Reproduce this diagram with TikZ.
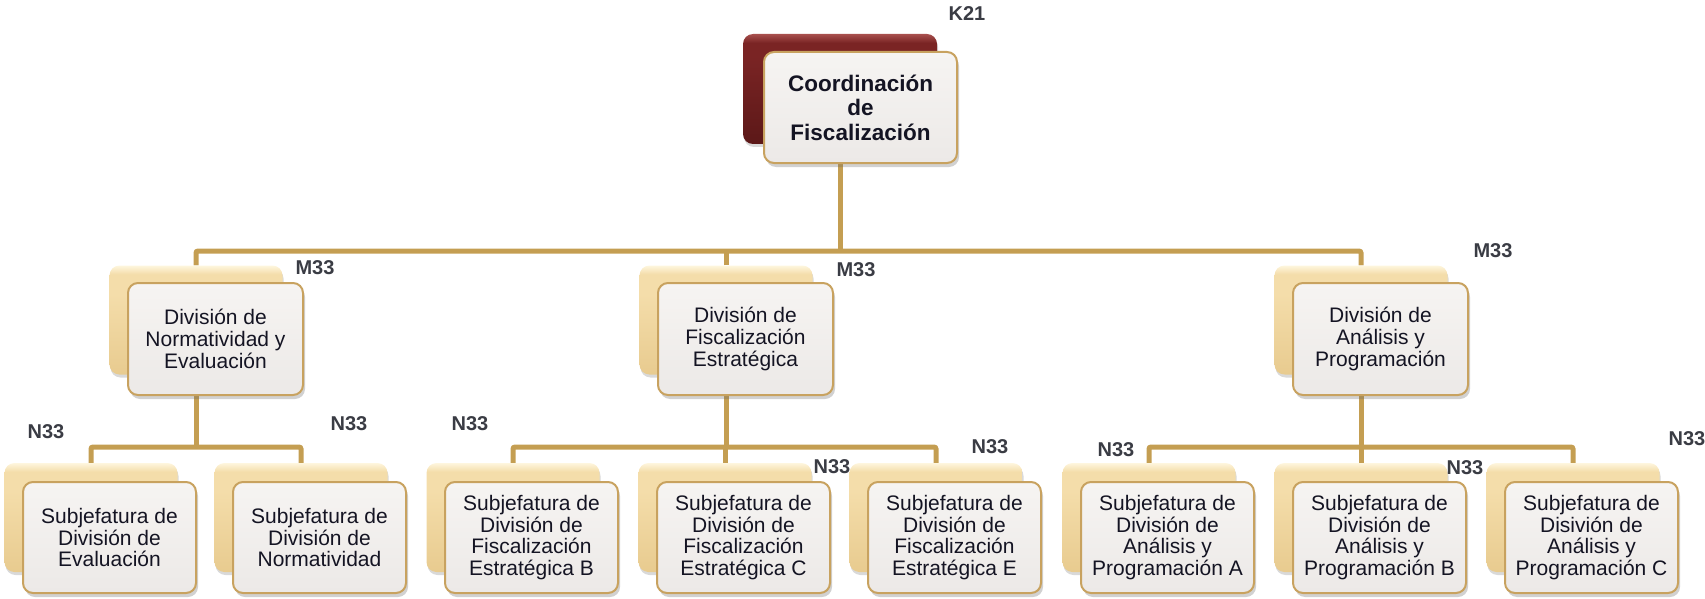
\documentclass[tikz,border=0pt]{standalone}
\usepackage{fontspec}
\setmainfont{Liberation Sans}
\usetikzlibrary{shadows,backgrounds}
\definecolor{gold}{RGB}{196,158,82}
\definecolor{goldborder}{RGB}{200,162,95}
\definecolor{beigehi}{RGB}{254,246,222}
\definecolor{beigemid}{RGB}{244,221,170}
\definecolor{beigebot}{RGB}{232,203,143}
\definecolor{redhi}{RGB}{168,80,78}
\definecolor{redmid}{RGB}{122,36,36}
\definecolor{redbot}{RGB}{92,24,24}
\definecolor{fronttop}{RGB}{246,244,242}
\definecolor{frontbot}{RGB}{236,233,231}
\definecolor{lbl}{RGB}{58,60,68}
\definecolor{txt}{RGB}{20,20,35}
\pgfdeclareverticalshading{beigesh}{100bp}{color(0bp)=(beigebot); color(25bp)=(beigebot); color(62bp)=(beigemid); color(71bp)=(beigemid); color(75bp)=(beigehi); color(100bp)=(beigehi)}
\pgfdeclareverticalshading{redsh}{100bp}{color(0bp)=(redbot); color(25bp)=(redbot); color(65bp)=(redmid); color(71bp)=(redmid); color(75bp)=(redhi); color(100bp)=(redhi)}
\tikzset{
  conn/.style={draw=gold, line width=5pt, rounded corners=2pt},
  backbox/.style={rounded corners=10pt, shading=beigesh,
    minimum width=173pt, minimum height=109pt, inner sep=0pt,
    drop shadow={shadow xshift=1pt, shadow yshift=-3pt, opacity=0.25, fill=black!60}},
  redbox/.style={rounded corners=10pt, shading=redsh,
    minimum width=194pt, minimum height=110pt, inner sep=0pt,
    drop shadow={shadow xshift=1pt, shadow yshift=-3pt, opacity=0.25, fill=black!60}},
  frontbox/.style={rounded corners=10pt, draw=goldborder, line width=2pt,
    top color=fronttop, bottom color=frontbot,
    minimum width=173pt, minimum height=111pt, inner sep=0pt, align=center,
    text=txt, font=\fontsize{21}{21.7}\selectfont,
    drop shadow={shadow xshift=2pt, shadow yshift=-4pt, opacity=0.3, fill=black!60}},
  topfront/.style={frontbox, minimum width=193pt, minimum height=111pt,
    font=\bfseries\fontsize{22.5}{24.5}\selectfont},
  midfront/.style={frontbox, minimum width=175pt, minimum height=112pt},
  lab/.style={text=lbl, font=\bfseries\fontsize{20}{20}\selectfont, inner sep=0pt},
}
\begin{document}
\begin{tikzpicture}[x=1pt,y=-1pt]
\useasboundingbox (0,0) rectangle (1705,599);
% top
\node[redbox] (kb) at (840,89) {};
\node[topfront] (kf) at (860.5,107.5) {Coordinación\\de\\Fiscalización};
\node[lab] (kl) at (967,14) {K21};
% middle
\foreach \n/\x/\t in {m1/196/{División de\\Normatividad y\\Evaluación},
                     m2/726/{División de\\Fiscalización\\Estratégica},
                     m3/1361/{División de\\Análisis y\\Programación}}{
  \node[backbox] (\n b) at (\x,320) {};
  \node[midfront] (\n f) at (\x+19.5,339) {\t};
}
\node[lab] (m1l) at (315,268) {M33};
\node[lab] (m2l) at (856,270) {M33};
\node[lab] (m3l) at (1493,251) {M33};
% bottom
\foreach \n/\x/\t in {s1/91/{Subjefatura de\\División de\\Evaluación},
                     s2/301/{Subjefatura de\\División de\\Normatividad},
                     s3/513/{Subjefatura de\\División de\\Fiscalización\\Estratégica B},
                     s4/725/{Subjefatura de\\División de\\Fiscalización\\Estratégica C},
                     s5/936/{Subjefatura de\\División de\\Fiscalización\\Estratégica E},
                     s6/1149/{Subjefatura de\\División de\\Análisis y\\Programación A},
                     s7/1361/{Subjefatura de\\División de\\Análisis y\\Programación B},
                     s8/1573/{Subjefatura de\\Disivión de\\Análisis y\\Programación C}}{
  \node[backbox] (\n b) at (\x,517.5) {};
  \node[frontbox] (\n f) at (\x+18.5,537.5) {\t};
}
\node[lab] (l1) at (46,432) {N33};
\node[lab] (l2) at (349,424) {N33};
\node[lab] (l3) at (470,424) {N33};
\node[lab] (l4) at (832,467) {N33};
\node[lab] (l5) at (990,447) {N33};
\node[lab] (l6) at (1116,450) {N33};
\node[lab] (l7) at (1465,468) {N33};
\node[lab] (l8) at (1687,439) {N33};
% connectors
\coordinate (bus0) at (840,251);
\coordinate (busA) at (196,447);
\coordinate (busB) at (726,447);
\coordinate (busC) at (1361,447);
\begin{pgfonlayer}{background}
\draw[conn] (kb.center) -- (bus0);
\draw[conn] (m1b.north) |- (bus0) -| (m3b.north);
\draw[conn] (m2b.north) -- (m2b.north |- bus0);
\draw[conn] (m1b.center) -- (busA);
\draw[conn] (s1b.north) |- (busA) -| (s2b.north);
\draw[conn] (m2b.center) -- (busB);
\draw[conn] (s3b.north) |- (busB) -| (s5b.north);
\draw[conn] (s4b.north) -- (s4b.north |- busB);
\draw[conn] (m3b.center) -- (busC);
\draw[conn] (s6b.north) |- (busC) -| (s8b.north);
\draw[conn] (s7b.north) -- (s7b.north |- busC);
\end{pgfonlayer}
\end{tikzpicture}
\end{document}
